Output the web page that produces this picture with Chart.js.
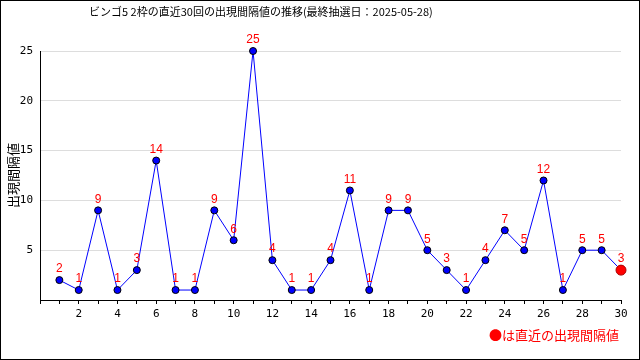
<!DOCTYPE html>
<html>
<head>
<meta charset="utf-8">
<script src="https://cdn.jsdelivr.net/npm/chart.js@4.4.1/dist/chart.umd.min.js"></script>
<style>
  body { margin: 0; background: #fff; }
  #wrap { position: absolute; left: 0; top: 0; width: 638px; height: 358px; border: 1px solid #000; background: #fff; }
</style>
</head>
<body>
<div id="wrap"><canvas id="gapChart"></canvas></div>
<script>
// ビンゴ5 2枠 直近30回の出現間隔
var rounds = [1, 2, 3, 4, 5, 6, 7, 8, 9, 10, 11, 12, 13, 14, 15, 16, 17, 18, 19, 20, 21, 22, 23, 24, 25, 26, 27, 28, 29, 30];
var intervals = [2, 1, 9, 1, 3, 14, 1, 1, 9, 6, 25, 4, 1, 1, 4, 11, 1, 9, 9, 5, 3, 1, 4, 7, 5, 12, 1, 5, 5, 3];
var yTicks = [5, 10, 15, 20, 25];

var chartTitle = "ビンゴ5 2枠の直近30回の出現間隔値の推移(最終抽選日：2025-05-28)";
var yTitle = "出現間隔値";
var legendText = "●は直近の出現間隔値";

var jpFont = "'Noto Sans CJK JP', sans-serif";

var points = rounds.map(function (r, i) { return { x: r, y: intervals[i] }; });
var last = intervals.length - 1;

// value labels above points + title and note text
var decorPlugin = {
  id: "decor",
  afterDatasetsDraw: function (chart) {
    var ctx = chart.ctx;
    var meta = chart.getDatasetMeta(0);
    ctx.save();
    ctx.fillStyle = "#ff0000";
    ctx.font = "12px 'Liberation Sans', Arial, sans-serif";
    ctx.textAlign = "center";
    ctx.textBaseline = "middle";
    meta.data.forEach(function (pt, i) {
      ctx.fillText(String(intervals[i]), pt.x, pt.y - 11);
    });
    ctx.restore();
  },
  afterDraw: function (chart) {
    var ctx = chart.ctx;
    ctx.save();
    ctx.fillStyle = "#000";
    ctx.font = "11px " + jpFont;
    ctx.textAlign = "left";
    ctx.textBaseline = "middle";
    ctx.fillText(chartTitle, 88, 11);

    ctx.fillStyle = "#ff0000";
    ctx.font = "13px " + jpFont;
    ctx.textAlign = "right";
    ctx.fillText(legendText, 618, 334);
    ctx.restore();
  }
};

new Chart("gapChart", {
  type: "line",
  data: {
    datasets: [{
      data: points,
      borderColor: "#0000ff",
      borderWidth: 1,
      tension: 0,
      clip: false,
      pointRadius: rounds.map(function (r, i) { return i === last ? 5 : 3.5; }),
      pointBackgroundColor: rounds.map(function (r, i) { return i === last ? "#ff0000" : "#0000ff"; }),
      pointBorderColor: rounds.map(function (r, i) { return i === last ? "#aa0000" : "#000000"; }),
      pointBorderWidth: 1
    }]
  },
  options: {
    responsive: true,
    maintainAspectRatio: false,
    animation: false,
    layout: { padding: { top: 50, right: 18, bottom: 0, left: 0 } },
    plugins: {
      legend: { display: false },
      title: { display: false },
      tooltip: { enabled: false }
    },
    scales: {
      x: {
        type: "linear",
        min: 0,
        max: 30,
        afterFit: function (scale) { scale.height = 59; },
        border: { color: "#000", width: 1 },
        grid: { drawOnChartArea: false, drawTicks: true, tickLength: 4, tickColor: "#000" },
        ticks: {
          stepSize: 1,
          autoSkip: false,
          maxRotation: 0,
          padding: 4,
          color: "#000",
          font: { family: "'DejaVu Sans Mono', monospace", size: 11 },
          callback: function (v) { return (v > 0 && v % 2 === 0) ? String(v) : ""; }
        }
      },
      y: {
        min: 0,
        max: 25,
        afterFit: function (scale) { scale.width = 39; },
        afterBuildTicks: function (scale) {
          scale.ticks = [{ value: 0 }].concat(yTicks.map(function (v) { return { value: v }; }));
        },
        border: { color: "#000", width: 1 },
        grid: { color: "#dddddd", drawTicks: false },
        title: {
          display: true,
          text: yTitle,
          color: "#000",
          font: { family: jpFont, size: 13 },
          padding: { top: 4, bottom: 0 }
        },
        ticks: {
          padding: 7,
          color: "#000",
          font: { family: "'DejaVu Sans Mono', monospace", size: 11 },
          callback: function (v) { return v === 0 ? "" : String(v); }
        }
      }
    }
  },
  plugins: [decorPlugin]
});
</script>
</body>
</html>
